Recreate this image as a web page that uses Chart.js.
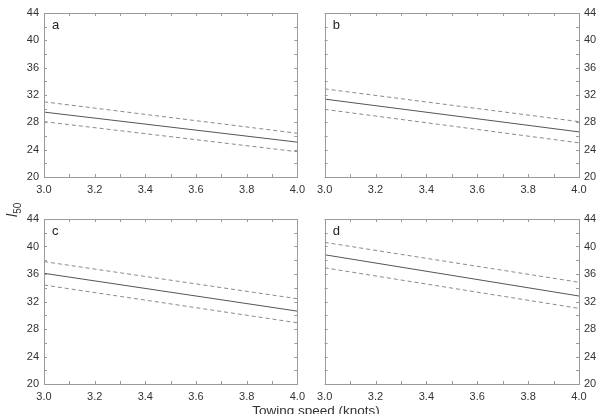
<!DOCTYPE html>
<html>
<head>
<meta charset="utf-8">
<script src="https://cdn.jsdelivr.net/npm/chart.js@4"></script>
<style>
    body { margin: 0; background: #fff; width: 597px; height: 414px; overflow: hidden; position: relative; font-family: "Liberation Sans", Arial, sans-serif; }
    canvas { position: absolute; }
    #yLabel { position: absolute; left: 4px; top: 200px; font-size: 14px; color: #333; transform: rotate(-90deg); transform-origin: left top; white-space: nowrap; }
    #xLabel { position: absolute; left: 0; width: 632px; top: 403px; text-align: center; font-size: 13.5px; color: #333; }
</style>
</head>
<body>
<canvas id="panelA" width="311" height="207" style="left:0;top:0"></canvas>
<canvas id="panelB" width="286" height="207" style="left:311px;top:0"></canvas>
<canvas id="panelC" width="311" height="207" style="left:0;top:207px"></canvas>
<canvas id="panelD" width="286" height="207" style="left:311px;top:207px"></canvas>
<div id="yLabel" style="top:217px"><i>l</i><sub style="font-size:10px">50</sub></div>
<div id="xLabel">Towing speed (knots)</div>
<script>
// towing speed (knots)
const speeds = [3.0, 4.0];

// l50 fit and confidence limits, per panel
const fitA = [29.5, 25.1];
const upperA = [31.0, 26.4];
const lowerA = [28.1, 23.7];

const fitB = [31.4, 26.6];
const upperB = [32.9, 28.1];
const lowerB = [29.9, 25.0];

const fitC = [36.1, 30.6];
const upperC = [37.8, 32.4];
const lowerC = [34.4, 28.9];

const fitD = [38.8, 32.8];
const upperD = [40.6, 34.8];
const lowerD = [36.9, 31.0];

const yTicks = [20, 24, 28, 32, 36, 40, 44];
const xTicks = [3.0, 3.2, 3.4, 3.6, 3.8, 4.0];

// frame + inward ticks + panel letter
const framePlugin = {
    id: 'frame',
    afterDraw: function(chart, args, opts) {
        const ctx = chart.ctx;
        const a = chart.chartArea;
        const xs = chart.scales.x, ys = chart.scales.y;
        ctx.save();
        ctx.strokeStyle = '#9a9a9a';
        ctx.lineWidth = 1;
        ctx.strokeRect(Math.round(a.left) + 0.5, Math.round(a.top) + 0.5, Math.round(a.right - a.left), Math.round(a.bottom - a.top));
        ctx.beginPath();
        for (let i = 0; i <= 10; i++) {
            const px = Math.round(xs.getPixelForValue(3 + i / 10)) + 0.5;
            ctx.moveTo(px, a.top); ctx.lineTo(px, a.top + 3);
            ctx.moveTo(px, a.bottom); ctx.lineTo(px, a.bottom - 3);
        }
        for (let v = 20; v <= 44; v += 2) {
            const py = Math.round(ys.getPixelForValue(v)) + 0.5;
            ctx.moveTo(a.left, py); ctx.lineTo(a.left + 3, py);
            ctx.moveTo(a.right, py); ctx.lineTo(a.right - 3, py);
        }
        ctx.stroke();
        ctx.fillStyle = '#222';
        ctx.font = '13px "Liberation Sans", Arial, sans-serif';
        ctx.textBaseline = 'top';
        ctx.fillText(opts.letter, a.left + 8, a.top + 6);
        ctx.restore();
    }
};

function makeDataset(values, dashed) {
    return {
        data: speeds.map((s, i) => ({ x: s, y: values[i] })),
        borderColor: dashed ? '#8a8a8a' : '#555',
        borderWidth: 1,
        borderDash: dashed ? [4, 3] : [],
        pointRadius: 0,
        fill: false,
        tension: 0
    };
}

function makePanel(id, letter, fit, upper, lower, yRight, pad) {
    const tickFont = { family: '"Liberation Sans", Arial, sans-serif', size: 11 };
    return new Chart(document.getElementById(id), {
        type: 'line',
        data: { datasets: [makeDataset(upper, true), makeDataset(fit, false), makeDataset(lower, true)] },
        options: {
            responsive: false,
            animation: false,
            devicePixelRatio: 1,
            layout: { padding: pad },
            plugins: { legend: { display: false }, tooltip: { enabled: false }, frame: { letter: letter } },
            scales: {
                x: {
                    type: 'linear', min: 3, max: 4,
                    afterBuildTicks: s => { s.ticks = xTicks.map(v => ({ value: v })); },
                    afterFit: s => { s.height = 30; },
                    grid: { display: false, drawTicks: false },
                    border: { display: false },
                    ticks: { padding: 6, color: '#333', font: tickFont, maxRotation: 0, callback: v => v.toFixed(1) }
                },
                y: {
                    position: yRight ? 'right' : 'left',
                    min: 20, max: 44,
                    afterBuildTicks: s => { s.ticks = yTicks.map(v => ({ value: v })); },
                    afterFit: s => { s.width = yRight ? 18 : 44; },
                    grid: { display: false, drawTicks: false },
                    border: { display: false },
                    ticks: { padding: 5, color: '#333', font: tickFont }
                }
            }
        },
        plugins: [framePlugin]
    });
}

document.addEventListener('DOMContentLoaded', function() {
    makePanel('panelA', 'a', fitA, upperA, lowerA, false, { top: 13, right: 12, left: 0, bottom: 0 });
    makePanel('panelB', 'b', fitB, upperB, lowerB, true, { top: 13, left: 12, right: 0, bottom: 0 });
    makePanel('panelC', 'c', fitC, upperC, lowerC, false, { top: 12, right: 12, left: 0, bottom: 0 });
    makePanel('panelD', 'd', fitD, upperD, lowerD, true, { top: 12, left: 12, right: 0, bottom: 0 });
});
</script>
</body>
</html>
